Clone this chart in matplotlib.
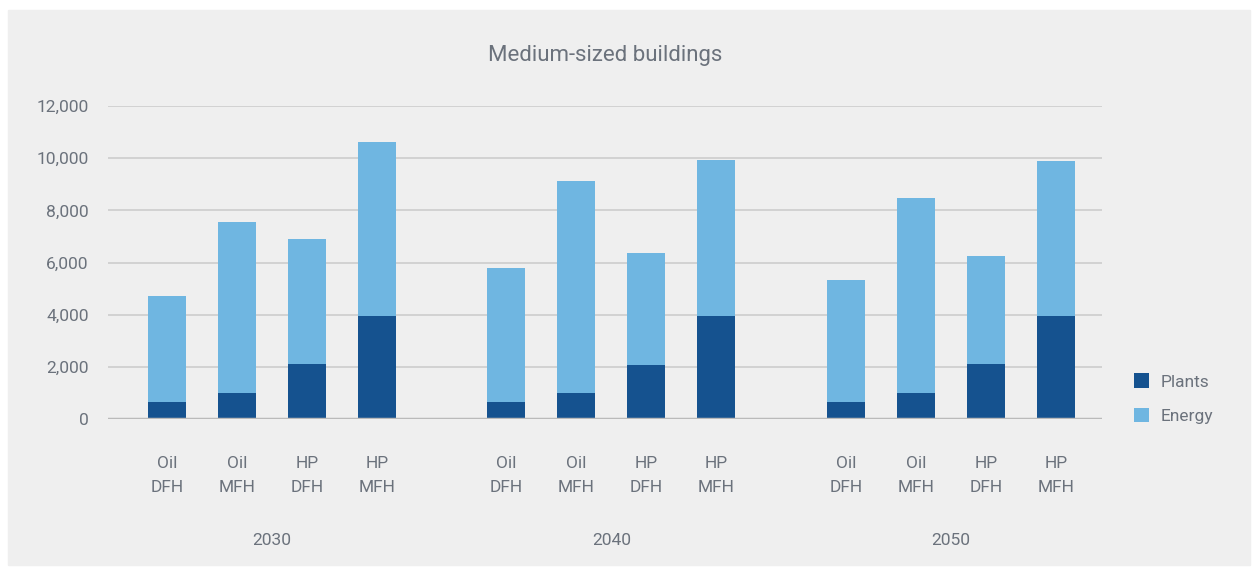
import matplotlib
matplotlib.use("Agg")
import matplotlib.pyplot as plt
import matplotlib.transforms as transforms
from matplotlib.patches import Rectangle

plt.rcParams['font.family'] = ['Roboto', 'DejaVu Sans']

# data
years = ["2030", "2040", "2050"]
systems = ["Oil\nDFH", "Oil\nMFH", "HP\nDFH", "HP\nMFH"]
plants = [650, 1000, 2110, 3950,
          650, 1000, 2070, 3950,
          650, 1000, 2110, 3950]
totals = [4720, 7550, 6900, 10620,
          5790, 9125, 6365, 9930,
          5330, 8475, 6250, 9890]
energy = [t - p for t, p in zip(totals, plants)]

dark = "#15528f"
light = "#6fb6e1"
text_col = "#6b727c"

fig = plt.figure(figsize=(12.6, 5.74), dpi=100)
# grey panel behind everything
fig.patches.append(Rectangle((8 / 1260, 9 / 574), 1242 / 1260, 555 / 574,
                             transform=fig.transFigure, color="#efefef", zorder=-10))

ax = fig.add_axes([108 / 1260, 1 - 419 / 574, 994 / 1260, 313 / 574])
ax.set_facecolor("none")

group_step = 4.85
xs = [g * group_step + j for g in range(len(years)) for j in range(len(systems))]

ax.bar(xs, plants, width=0.54, color=dark, label="Plants", zorder=3)
ax.bar(xs, energy, bottom=plants, width=0.54, color=light, label="Energy", zorder=3)

ax.set_ylim(0, 12000)
ax.set_xlim(-0.84, 13.36)
ax.set_yticks(range(0, 12001, 2000))
ax.set_yticklabels([f"{v:,}" for v in range(0, 12001, 2000)])
ax.yaxis.grid(True, color="#cfcfcf", linewidth=1.3, zorder=0)
ax.set_axisbelow(True)
ax.axhline(0, color="#bababa", linewidth=2.5, zorder=4)
for s in ax.spines.values():
    s.set_visible(False)

ax.set_xticks(xs)
ax.set_xticklabels(systems * len(years), linespacing=1.75)
ax.tick_params(axis="x", length=0, pad=27, labelsize=12.5, labelcolor=text_col)
ax.tick_params(axis="y", length=0, pad=14, labelsize=12.5, labelcolor=text_col)

trans = transforms.blended_transform_factory(ax.transData, ax.transAxes)
for g, yr in enumerate(years):
    ax.text(g * group_step + 1.5, -0.387, yr, transform=trans, ha="center",
            va="center", fontsize=12.5, color=text_col)

fig.text(605 / 1260, 1 - 56 / 574, "Medium-sized buildings", ha="center",
         va="center", fontsize=16, color=text_col)

leg = ax.legend(loc="center left", bbox_to_anchor=(1.016, 0.065), frameon=False,
                fontsize=12.5, labelcolor=text_col, handlelength=0.9,
                handleheight=0.9, handletextpad=0.65, labelspacing=1.05)

fig.savefig("out.png", dpi=100)
